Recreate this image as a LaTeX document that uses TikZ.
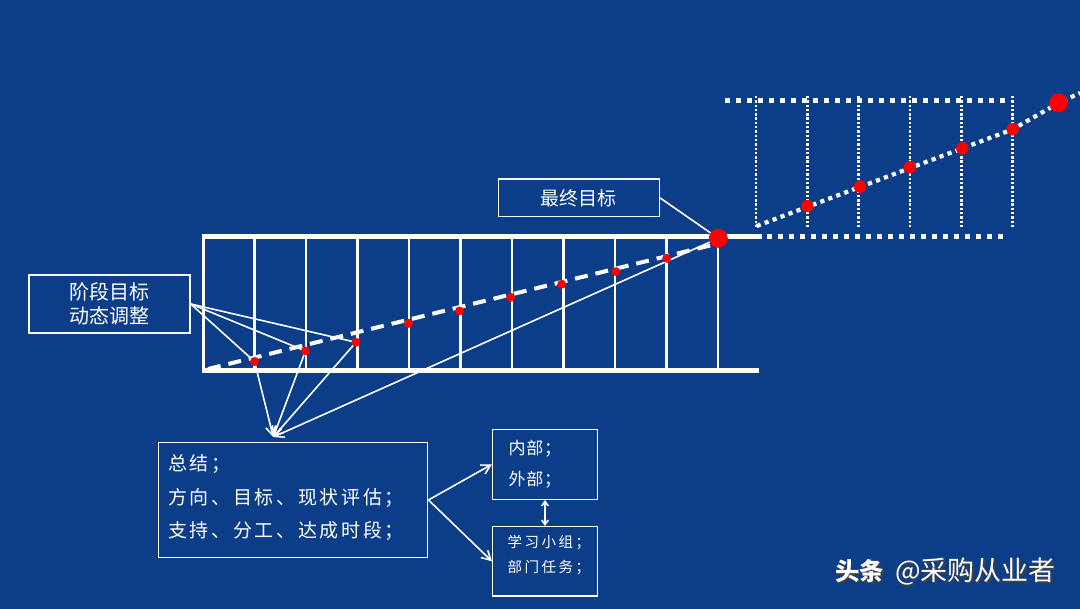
\documentclass[tikz,border=0pt]{standalone}
\usepackage{fontspec}
\newfontfamily\cjk{Noto Sans CJK SC}
\usetikzlibrary{arrows.meta}
\definecolor{bgblue}{RGB}{11,61,137}
\definecolor{dotred}{RGB}{255,0,0}
\pgfdeclarelayer{back}
\pgfdeclarelayer{lines}
\pgfsetlayers{back,lines,main}
\begin{document}
\begin{tikzpicture}[x=1pt,y=-1pt,
  box/.style={draw=white, line width=1.5pt, text=white, inner sep=0pt},
  reddot/.style={circle, fill=dotred, inner sep=0pt, minimum size=9pt},
  bigdot/.style={reddot, minimum size=19pt},
  rdot/.style={reddot, minimum size=12.5pt},
  rail/.style={white, line width=5pt},
  rung/.style={white, line width=2.7pt},
  dashline/.style={white, line width=4pt, dash pattern=on 13pt off 8pt},
  sqdots/.style={white, line width=5pt, dash pattern=on 5pt off 6pt},
  vdots/.style={white, line width=2.7pt, dash pattern=on 2.4pt off 1.9pt},
  ddots/.style={white, line width=4.2pt, dash pattern=on 4.2pt off 4.3pt},
  conn/.style={white, line width=1.6pt},
  arr/.style={conn, -{Straight Barb[length=9pt, width=10pt]}},
  dblarr/.style={conn, {Straight Barb[length=4.5pt, width=6.5pt]}-{Straight Barb[length=4.5pt, width=6.5pt]}}
]
\begin{pgfonlayer}{back}
\fill[bgblue] (0,0) rectangle (1080,609);
\end{pgfonlayer}
\useasboundingbox (0,0) rectangle (1080,609);

% boxes
\node[box, minimum width=161pt, minimum height=58pt, align=center,
      font=\cjk\fontsize{20}{24}\selectfont] (stage) at (109.5,304) {阶段目标\\动态调整};
\node[box, minimum width=161pt, minimum height=37.7pt,
      font=\cjk\fontsize{19}{23}\selectfont] (final) at (578.8,197.9) {最终目标};
\node[box, minimum width=269.4pt, minimum height=114.6pt, inner xsep=10pt, text width=249.4pt, align=left,
      font=\cjk\fontsize{19}{33.5}\selectfont\addfontfeature{LetterSpace=14}] (sum) at (293,500)
      {总结；\\方向、目标、现状评估；\\支持、分工、达成时段；\rule[-7pt]{0pt}{0pt}};
\node[box, minimum width=104.6pt, minimum height=70pt, inner xsep=16pt, text width=72.6pt, align=left,
      font=\cjk\fontsize{17}{31}\selectfont\addfontfeature{LetterSpace=4}] (inner) at (545,464.3)
      {内部；\\外部；};
\node[box, minimum width=104.6pt, minimum height=69.3pt, inner xsep=15pt, text width=74.6pt, align=left,
      font=\cjk\fontsize{14.5}{25}\selectfont\addfontfeature{LetterSpace=17}] (task) at (545,561.3)
      {学习小组；\\部门任务；\rule[-14pt]{0pt}{0pt}};

% red dots on the ladder
\node[reddot] (d1) at (254.5,361.5) {};
\node[reddot] (d2) at (305.5,351) {};
\node[reddot] (d3) at (356,342.3) {};
\node[reddot] (d4) at (408.5,323.3) {};
\node[reddot] (d5) at (459.5,311) {};
\node[reddot] (d6) at (510.7,297.3) {};
\node[reddot] (d7) at (561.7,284.3) {};
\node[reddot] (d8) at (616,271.7) {};
\node[reddot] (d9) at (666.7,258.3) {};
\node[bigdot] (big) at (718.3,238.3) {};

% red dots on the dotted ladder
\node[rdot] (r1) at (807.3,206) {};
\node[rdot] (r2) at (860,186.7) {};
\node[rdot] (r3) at (910,167.3) {};
\node[rdot] (r4) at (962.3,148.3) {};
\node[rdot] (r5) at (1012.7,129.3) {};
\node[bigdot] (big2) at (1058.5,103) {};

\coordinate (tip) at (273.3,437);
\coordinate (ds) at (208,369);
\coordinate (rs) at (756.7,226);
\coordinate (re) at (1080,93);

% watermark
\node[inner sep=0pt, anchor=west, text=black!75, font=\cjk\fontsize{24.5}{24.5}\selectfont] (wmsh) at (836.3,573)
  {{\bfseries 头条}\hspace{11pt}{\fontsize{27}{27}\selectfont @采购从业者}};
\node[inner sep=0pt, anchor=west, text=white, font=\cjk\fontsize{24.5}{24.5}\selectfont] (wm) at (835,571.7)
  {{\bfseries 头条}\hspace{11pt}{\fontsize{27}{27}\selectfont @采购从业者}};

\begin{pgfonlayer}{lines}
% solid ladder
\draw[rail] (201.5,236.7) -- (762,236.7);
\draw[rail] (201.5,371) -- (759,371);
\draw[white, line width=3pt] (203,236.7) -- (203,371);
\foreach \k in {1,...,10} {
  \draw[rung] ({203+51.5*\k},236.7) -- ({203+51.5*\k},371);
}
\draw[dashline] (ds) -- (big.south west);

% dotted ladder
\draw[sqdots] (725,101) -- (1008,101);
\draw[sqdots] (767,236.7) -- (1008,236.7);
\foreach \k in {0,...,5} {
  \draw[vdots] ({756+51.3*\k},96) -- ({756+51.3*\k},229);
}
\draw[ddots] (rs) -- (r5.center) -- (big2.center) -- (re);

% connectors
\draw[conn] (stage.east) -- (d1.center);
\draw[conn] (stage.east) -- (d2.center);
\draw[conn] (stage.east) -- (d3.center);
\draw[arr] (d1.center) -- (tip);
\draw[arr] (d2.center) -- (tip);
\draw[arr] (d3.center) -- (tip);
\draw[arr] (big.center) -- (tip);
\draw[conn] (final.east) -- (big.center);
\draw[arr] (sum.east) -- (inner.west);
\draw[arr] (sum.east) -- (task.west);
\draw[dblarr] (inner.south) -- (task.north);
\end{pgfonlayer}
\end{tikzpicture}
\end{document}
